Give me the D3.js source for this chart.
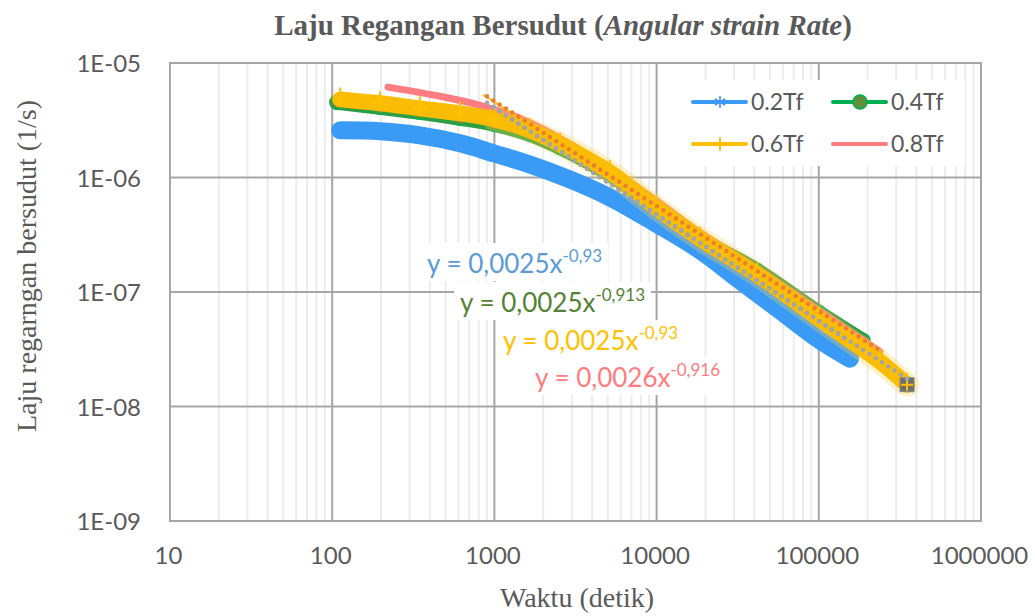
<!DOCTYPE html>
<html><head><meta charset="utf-8">
<script src="https://cdn.jsdelivr.net/npm/d3@7"></script>
<style>body{margin:0;background:#fff}svg text{fill:#595959}</style>
</head><body><svg id="c" width="1035" height="616"></svg>
<script>
// ---------- DATA ----------
const seriesNames = ["0.2Tf", "0.4Tf", "0.6Tf", "0.8Tf"];
const xTicks = [10, 100, 1000, 10000, 100000, 1000000];
const yTicks = [1e-9, 1e-8, 1e-7, 1e-6, 1e-5];
const yTickLabels = ["1E-09", "1E-08", "1E-07", "1E-06", "1E-05"];

const t02x = [112, 197, 347, 614, 1000, 1656, 2925, 5160, 9910, 18530, 32700, 57700, 100000, 155700];
const t02y = [2.58e-6, 2.53e-6, 2.33e-6, 1.99e-6, 1.62e-6, 1.30e-6, 9.6e-7, 6.7e-7, 3.97e-7, 2.31e-7, 1.26e-7, 6.9e-8, 3.85e-8, 2.62e-8];

const t04x = [107, 197, 347, 614, 1000, 1656, 2540, 5160, 9910, 18530, 41700, 100000, 187000];
const t04y = [4.53e-6, 4.1e-6, 3.71e-6, 3.29e-6, 2.91e-6, 2.38e-6, 1.83e-6, 1.06e-6, 5.47e-7, 2.93e-7, 1.54e-7, 6.62e-8, 3.77e-8];

const t06x = [112, 197, 347, 614, 1000, 1656, 2540, 5160, 9910, 18530, 41700, 100000, 155700, 238000, 350000];
const t06y = [4.81e-6, 4.45e-6, 4.02e-6, 3.63e-6, 3.22e-6, 2.58e-6, 1.95e-6, 1.11e-6, 5.47e-7, 2.93e-7, 1.42e-7, 5.86e-8, 3.77e-8, 2.47e-8, 1.55e-8];

const t08x = [221, 462, 815, 1439, 2540, 5160, 9910, 18530, 41700, 100000, 238000];
const t08y = [6.16e-6, 5.12e-6, 4.27e-6, 3.29e-6, 2.2e-6, 1.2e-6, 6.3e-7, 3.31e-7, 1.6e-7, 6.9e-8, 3.02e-8];

// power trendlines y = a * x^b
const trendA = [0.0025, 0.0025, 0.0025, 0.0026];
const trendB = [-0.93, -0.913, -0.93, -0.916];
const trendFrom = [900, 850, 900, 900];
const trendTo = [155000, 190000, 350000, 240000];
const eqCoef = ["0,0025", "0,0025", "0,0025", "0,0026"];
const eqExp = ["-0,93", "-0,913", "-0,93", "-0,916"];

// ---------- STYLE / LAYOUT ----------
const colors = ["#3a9bf7", "#00b050", "#ffc000", "#ff7c80"];
const bandColors = ["#3a9bf7", "#2e9e45", "#fbbc05", "#ff7c80"];
const bandWidths = [18, 15, 16, 7];
const eqColors = ["#5b9bd5", "#548235", "#ffc000", "#ff7c80"];
const trendColors = ["#5b9bd5", "#ffc000", "#a5a5a5", "#ed7d31"];
const trendDash = ["0 7.5", null, "0 7.5", "0 7.5"];
const eqPos = [[427, 273], [460, 312], [503, 350], [535, 387]];

const svg = d3.select("#c");
const x = d3.scaleLog().domain([10, 1e6]).range([170, 981]);
const y = d3.scaleLog().domain([1e-9, 1e-5]).range([521, 63]);

// gridlines
const g = svg.append("g");
const minor = [];
for (let e = 1; e < 6; e++) for (let k = 2; k <= 9; k++) minor.push(k * Math.pow(10, e));
g.selectAll(".mn").data(minor).join("line")
  .attr("x1", d => x(d)).attr("x2", d => x(d)).attr("y1", 63).attr("y2", 521)
  .attr("stroke", "#ececec").attr("stroke-width", 2);
g.selectAll(".mx").data(xTicks).join("line")
  .attr("x1", d => x(d)).attr("x2", d => x(d)).attr("y1", 62).attr("y2", 522)
  .attr("stroke", "#a6a6a6").attr("stroke-width", 2);
g.selectAll(".my").data(yTicks).join("line")
  .attr("x1", 169).attr("x2", 982).attr("y1", d => y(d)).attr("y2", d => y(d))
  .attr("stroke", "#a6a6a6").attr("stroke-width", 2);

// axes labels
const xa = svg.append("g").attr("transform", "translate(-2,544)")
  .call(d3.axisBottom(x).tickValues(xTicks).tickSize(0).tickFormat(d3.format("d")));
xa.select(".domain").remove();
xa.selectAll("text").attr("font-family", "Lato").attr("font-size", 24).attr("fill", "#595959");
const ya = svg.append("g").attr("transform", "translate(144,1)")
  .call(d3.axisLeft(y).tickValues(yTicks).tickSize(0).tickFormat((d, i) => yTickLabels[i]));
ya.select(".domain").remove();
ya.selectAll("text").attr("font-family", "Lato").attr("font-size", 24).attr("fill", "#595959");

// series
const xs = [t02x, t04x, t06x, t08x], ys = [t02y, t04y, t06y, t08y];
const series = seriesNames.map((n, i) => ({name: n, i, pts: xs[i].map((v, j) => [v, ys[i][j]])}));
const line = d3.line().x(d => x(d[0])).y(d => y(d[1])).curve(d3.curveCatmullRom.alpha(0.5));

function drawMarker(sel, i, px, py, legend) {
  if (i === 0) {
    const s = legend ? 6 : 7;
    sel.append("path").attr("d", `M0,${-s}V${s}M${-s*0.85},${-s*0.5}L${s*0.85},${s*0.5}M${-s*0.85},${s*0.5}L${s*0.85},${-s*0.5}`)
      .attr("transform", `translate(${px},${py})`)
      .attr("stroke", colors[0]).attr("stroke-width", 1.6).attr("fill", "none");
  } else if (i === 1) {
    sel.append("circle").attr("cx", px).attr("cy", py).attr("r", 7)
      .attr("fill", "#5f8f3c").attr("stroke", "#00b050").attr("stroke-width", 1.5);
  } else if (i === 2) {
    const v = legend ? 7 : 12;
    sel.append("path").attr("d", `M0,${-v}V${legend ? v : 7}M-7,0H7`).attr("transform", `translate(${px},${py})`)
      .attr("stroke", colors[2]).attr("stroke-width", 2).attr("fill", "none");
  }
}

const order = [0, 1, 3, 2];
const sg = svg.append("g");
order.forEach(i => {
  const s = series[i];
  if (i === 2) {
    sg.append("path").attr("d", line(s.pts.filter(p => p[0] >= 1000))).attr("fill", "none")
      .attr("stroke", "#ffd34d").attr("stroke-opacity", 0.3).attr("stroke-width", 24)
      .attr("stroke-linecap", "round").attr("stroke-linejoin", "round");
  }
  sg.append("path").attr("d", line(s.pts)).attr("fill", "none")
    .attr("stroke", bandColors[i]).attr("stroke-width", bandWidths[i])
    .attr("stroke-linecap", "round").attr("stroke-linejoin", "round");
  s.pts.forEach(p => drawMarker(sg, i, x(p[0]), y(p[1]), false));
});
// last point of 0.6Tf drawn with a square marker
{
  const p = series[2].pts[series[2].pts.length - 1];
  sg.append("rect").attr("x", x(p[0]) - 7).attr("y", y(p[1]) - 7).attr("width", 14).attr("height", 14)
    .attr("fill", "#6e6e6e").attr("stroke", "#888");
  sg.append("path").attr("d", "M0,-6V6M-6,0H6").attr("transform", `translate(${x(p[0])},${y(p[1])})`)
    .attr("stroke", "#ffc000").attr("stroke-width", 2);
}

// trendlines
[0, 1, 3, 2].forEach(i => {
  const pts = [trendFrom[i], trendTo[i]].map(v => [v, trendA[i] * Math.pow(v, trendB[i])]);
  const p = svg.append("path").attr("d", d3.line().x(d => x(d[0])).y(d => y(d[1]))(pts))
    .attr("fill", "none").attr("stroke", trendColors[i]);
  if (trendDash[i]) p.attr("stroke-width", 4.5).attr("stroke-dasharray", trendDash[i]).attr("stroke-linecap", "round");
  else p.attr("stroke-width", 1.8);
});

// equation labels
const eg = svg.append("g");
[0, 1, 2, 3].forEach(i => {
  const gg = eg.append("g");
  const bg = gg.append("rect").attr("fill", "#fff");
  const t = gg.append("text").attr("x", eqPos[i][0]).attr("y", eqPos[i][1])
    .attr("font-family", "Lato").attr("font-size", 26).style("fill", eqColors[i]);
  t.append("tspan").text("y = " + eqCoef[i] + "x");
  t.append("tspan").attr("dy", -11).attr("font-size", 17).text(eqExp[i]);
  const b = t.node().getBBox();
  bg.attr("x", b.x - 6).attr("y", b.y - 2).attr("width", b.width + 12).attr("height", b.height + 4);
});

// legend
const lg = svg.append("g");
lg.append("rect").attr("x", 683).attr("y", 80).attr("width", 282).attr("height", 86).attr("fill", "#fff");
const legPos = [[693, 102], [833, 102], [693, 144], [833, 144]];
seriesNames.forEach((n, i) => {
  const [lx, ly] = legPos[i];
  lg.append("line").attr("x1", lx).attr("x2", lx + 53).attr("y1", ly).attr("y2", ly)
    .attr("stroke", colors[i]).attr("stroke-width", 4).attr("stroke-linecap", "round");
  drawMarker(lg, i, lx + 27, ly, true);
  lg.append("text").attr("x", lx + 58).attr("y", ly + 8).attr("font-family", "Lato")
    .attr("font-size", 23).text(n);
});

// titles
const tt = svg.append("text").attr("x", 563).attr("y", 35).attr("text-anchor", "middle")
  .attr("font-family", "Liberation Serif").attr("font-weight", "bold").attr("font-size", 29);
tt.append("tspan").text("Laju Regangan Bersudut (");
tt.append("tspan").attr("font-style", "italic").text("Angular strain Rate");
tt.append("tspan").text(")");

svg.append("text").attr("x", 577).attr("y", 607).attr("text-anchor", "middle")
  .attr("font-family", "Liberation Serif").attr("font-size", 28).text("Waktu (detik)");
svg.append("text").attr("transform", "translate(36,266) rotate(-90)").attr("text-anchor", "middle")
  .attr("font-family", "Liberation Serif").attr("font-size", 28).text("Laju regarngan bersudut (1/s)");
</script></body></html>
